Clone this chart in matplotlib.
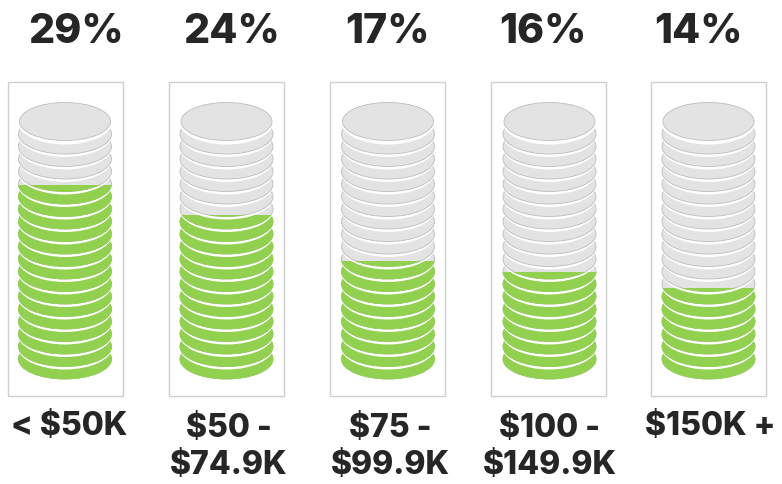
import matplotlib
matplotlib.use('Agg')
import matplotlib.pyplot as plt
from matplotlib.patches import Ellipse, Rectangle

# data
labels = ['< $50K', '$50 -\n$74.9K', '$75 -\n$99.9K', '$100 -\n$149.9K', '$150K +']
shares = ['29%', '24%', '17%', '16%', '14%']
fill_levels = [28.8, 24.3, 17.5, 15.9, 13.5]

box_left = [8, 169, 330, 491, 651]
stack_x = [65, 226.5, 388, 549.5, 708.5]
label_x = [69, 228.5, 390, 550, 710]
share_x = [75.5, 231.5, 387.5, 543, 698]

GREEN = '#92d050'
GREY = '#e3e3e3'
EDGE = '#bdbdbd'
N_COINS = 20
STEP = 12.5
BASE = 379.0
PX_PER_PCT = 6.73

plt.rcParams['font.family'] = ['Inter', 'DejaVu Sans']

fig = plt.figure(figsize=(7.82, 4.84), dpi=100)
ax = fig.add_axes([0, 0, 1, 1])
ax.set_xlim(0, 782)
ax.set_ylim(484, 0)
ax.axis('off')


def draw_stack(x, level):
    fill_top = BASE - level * PX_PER_PCT
    clip = Rectangle((x - 60, fill_top), 120, BASE - fill_top + 5, transform=ax.transData)
    for i in range(N_COINS):
        cy = BASE - 20 - i * STEP
        a, b = 93, 40
        if i > 0:
            # white halo of this coin cuts the one below into a crescent
            ax.add_patch(Ellipse((x, cy), a + 2, b + 6, fc='white', ec='none', zorder=2 + i))
        if i == N_COINS - 1:
            a, b = 91, 38
        ax.add_patch(Ellipse((x, cy), a, b, fc=GREY, ec=EDGE, lw=0.6, zorder=2 + i))
        green = Ellipse((x, cy), a, b, fc=GREEN, ec=GREEN, lw=0.6, zorder=2 + i)
        ax.add_patch(green)
        green.set_clip_path(clip)


for i in range(len(labels)):
    ax.add_patch(Rectangle((box_left[i], 82), 115, 314, fc='white', ec='#cfcfcf', lw=1, zorder=1))
    draw_stack(stack_x[i], fill_levels[i])
    ax.text(share_x[i], 32, shares[i], ha='center', va='center', fontsize=29.5,
            fontweight='heavy', color='#262626')
    ax.text(label_x[i], 447 if '\n' in labels[i] else 426, labels[i], ha='center', va='center',
            fontsize=23, fontweight='heavy', color='#262626', linespacing=1.28)

fig.savefig('out.png', dpi=100)
